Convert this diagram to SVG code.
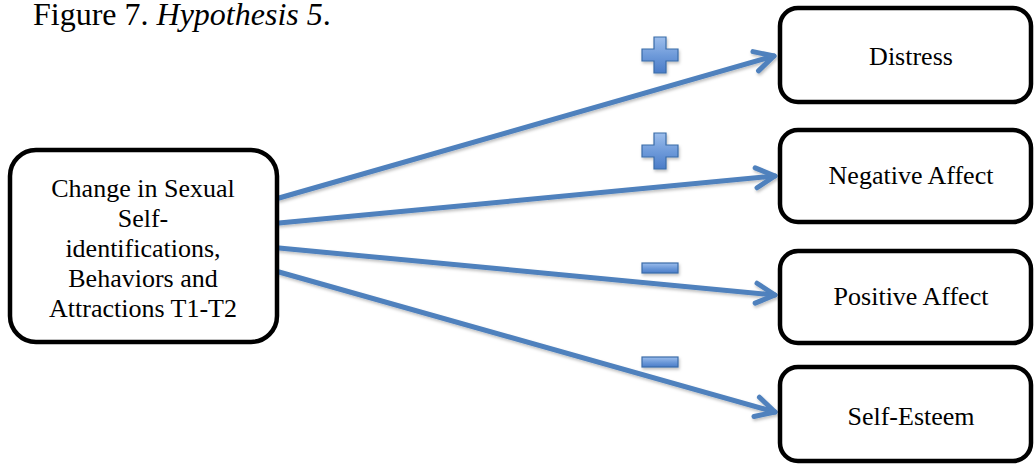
<svg xmlns="http://www.w3.org/2000/svg" width="1034" height="464" viewBox="0 0 1034 464">
  <style>
    .box { fill: #ffffff; stroke: #000000; stroke-width: 4.5; }
    .link { fill: none; stroke: #4F81BD; stroke-width: 5; stroke-linecap: round; }
    .sign { fill: url(#signFill); stroke: #3A6CA8; stroke-width: 1.2; }
  </style>
  <defs>
    <marker id="chev" markerUnits="userSpaceOnUse" viewBox="-24 -14 28 28" markerWidth="28" markerHeight="28" refX="0" refY="0" orient="auto">
      <path d="M-19,-10 L0,0 L-19,10" fill="none" stroke="#4F81BD" stroke-width="5" stroke-linecap="round" stroke-linejoin="round"/>
    </marker>
    <linearGradient id="signFill" x1="0" y1="0" x2="0" y2="1">
      <stop offset="0" stop-color="#9DBEEC"/>
      <stop offset="0.5" stop-color="#6F9BDA"/>
      <stop offset="1" stop-color="#4A7CC8"/>
    </linearGradient>
    <filter id="soft" x="-20%" y="-20%" width="140%" height="160%">
      <feDropShadow dx="1" dy="2" stdDeviation="1.5" flood-color="#000000" flood-opacity="0.25"/>
    </filter>
  </defs>

  <text x="33" y="25" font-family="Liberation Serif, Times New Roman, serif" font-size="32" fill="#000000">Figure 7. <tspan font-style="italic">Hypothesis 5</tspan>.</text>

  <!-- connectors from the source box to each outcome -->
  <g id="connectors" filter="url(#soft)">
    <line class="link" x1="279" y1="198" x2="774" y2="56" marker-end="url(#chev)"/>
    <line class="link" x1="279" y1="223" x2="775" y2="176" marker-end="url(#chev)"/>
    <line class="link" x1="279" y1="248" x2="775" y2="295" marker-end="url(#chev)"/>
    <line class="link" x1="279" y1="272" x2="775" y2="412" marker-end="url(#chev)"/>
  </g>

  <!-- sign markers on each path -->
  <g id="signs" filter="url(#soft)">
    <path class="sign" d="M654,37 h12 v12 h12 v12 h-12 v12 h-12 v-12 h-12 v-12 h12 z"/>
    <path class="sign" d="M654,133 h12 v12 h12 v12 h-12 v12 h-12 v-12 h-12 v-12 h12 z"/>
    <rect class="sign" x="642" y="263" width="36" height="10"/>
    <rect class="sign" x="642" y="357" width="36" height="10"/>
  </g>

  <g font-family="Liberation Serif, Times New Roman, serif" font-size="26" fill="#000000" text-anchor="middle">
    <g id="source">
      <rect class="box" x="10" y="150" width="267" height="192" rx="26"/>
      <text x="143" y="197">Change in Sexual</text>
      <text x="143" y="227">Self-</text>
      <text x="143" y="257">identifications,</text>
      <text x="143" y="287">Behaviors and</text>
      <text x="143" y="317">Attractions T1-T2</text>
    </g>

    <g id="distress">
      <rect class="box" x="780" y="8" width="251" height="94" rx="18"/>
      <text x="911" y="65">Distress</text>
    </g>

    <g id="negative-affect">
      <rect class="box" x="780" y="130" width="251" height="92" rx="18"/>
      <text x="911" y="184">Negative Affect</text>
    </g>

    <g id="positive-affect">
      <rect class="box" x="780" y="251" width="251" height="92" rx="18"/>
      <text x="911" y="305">Positive Affect</text>
    </g>

    <g id="self-esteem">
      <rect class="box" x="780" y="367" width="251" height="94" rx="18"/>
      <text x="911" y="425">Self-Esteem</text>
    </g>
  </g>
</svg>
